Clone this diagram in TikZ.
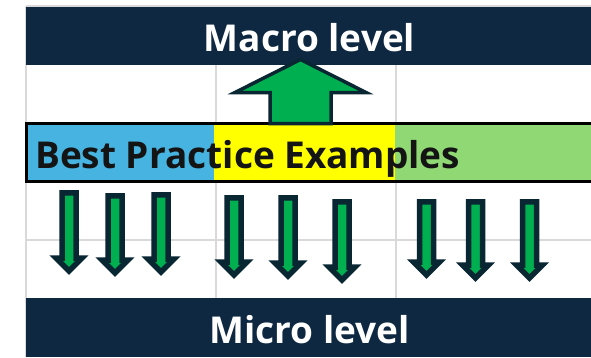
\documentclass[tikz,border=0pt]{standalone}
\usepackage{fontspec}
\setmainfont{Open Sans}
\tikzset{
  gridline/.style={draw=col_grid, line width=1.5pt},
  levelbar/.style={fill=col_bar},
  levellabel/.style={text=white, font=\bfseries\fontsize{37}{37}\selectfont, anchor=base, inner sep=0pt},
  blockarrow/.style={fill=col_arrow, draw=col_edge, line width=5.5pt, miter limit=10},
  bigarrow/.style={fill=col_arrow, draw=col_edge, line width=3.5pt, miter limit=10},
}
% x position, top of shaft, tip
\newcommand{\DownArrow}[3]{%
  \draw[blockarrow] (#1-7,#2+2.75) -- (#1+7,#2+2.75) -- (#1+7,#3-17) -- (#1+13,#3-17)
    -- (#1,#3-4) -- (#1-13,#3-17) -- (#1-7,#3-17) -- cycle;}

\begin{document}
\begin{tikzpicture}[x=1pt, y=-1pt]
%
\definecolor{col_bar}{rgb}{0.055,0.157,0.255}
\definecolor{col_edge}{rgb}{0.035,0.149,0.2}
\definecolor{col_grid}{rgb}{0.851,0.851,0.851}
\definecolor{col_arrow}{rgb}{0.0,0.69,0.314}
\definecolor{col_blue}{rgb}{0.278,0.702,0.878}
\definecolor{col_yellow}{rgb}{1.0,1.0,0.0}
\definecolor{col_green}{rgb}{0.561,0.847,0.455}
\definecolor{col_text}{rgb}{0.08,0.08,0.08}
%
\useasboundingbox[fill=white] (0,0) rectangle (591,357);
%
% grid
\draw[gridline] (26,6) -- (591,6);
\draw[gridline] (26,6) -- (26,357);
\draw[gridline] (216,65) -- (216,298);
\draw[gridline] (396,65) -- (396,298);
\draw[gridline] (26,240) -- (591,240);
%
% level bars
\fill[levelbar] (26,6.75) rectangle (591,65);
\fill[levelbar] (26,298) rectangle (591,357);
\node[levellabel] (macro) at (309.5,51) {Macro level};
\node[levellabel] (micro) at (309.5,343) {Micro level};
%
% band
\fill[col_blue] (26,123) rectangle (214,181);
\fill[col_yellow] (214,123) rectangle (395,181);
\fill[col_green] (395,123) rectangle (591,181);
\draw[black, line width=3pt] (592,123) -- (26,123) -- (26,181) -- (592,181);
\node[anchor=base west, inner sep=0pt, text=col_text,
  font=\bfseries\fontsize{37}{37}\selectfont] (examples) at (35,168) {Best Practice Examples};
%
% up arrow
\draw[bigarrow] (300.5,59.5) -- (366,92.5) -- (331,92.5) -- (331,123.5)
  -- (270,123.5) -- (270,92.5) -- (235,92.5) -- cycle;
%
% down arrows
\DownArrow{69}{190}{275}
\DownArrow{115}{193}{277}
\DownArrow{161}{192}{276}
\DownArrow{234}{195}{279}
\DownArrow{288}{195}{280}
\DownArrow{342}{199}{284}
\DownArrow{426.5}{199}{279}
\DownArrow{475.5}{199}{282}
\DownArrow{529.5}{199}{282}
%
\end{tikzpicture}
\end{document}
